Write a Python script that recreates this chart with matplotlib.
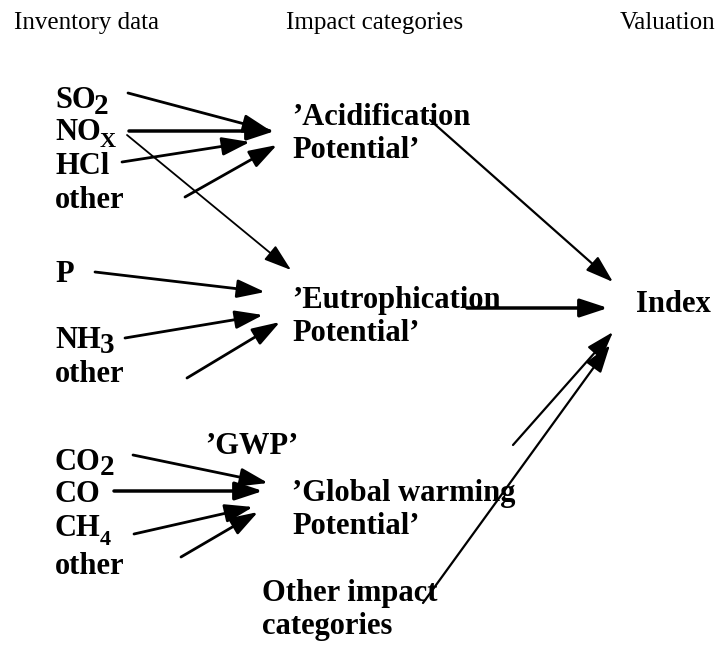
import matplotlib.pyplot as plt
from matplotlib.patches import FancyArrowPatch

plt.rcParams['font.family'] = ['Liberation Serif', 'DejaVu Serif']

# column headers (text, x centre, y)
headers = ["Inventory data", "Impact categories", "Valuation"]
header_x = [87, 375, 668]
header_y = 23

# inventory substances: main text, subscript, subscript size, subscript drop (pt)
inventory = ["SO", "NO", "HCl", "other", "P", "NH", "other", "CO", "CO", "CH", "other"]
subscripts = ["2", "X", "", "", "", "3", "", "2", "", "4", ""]
sub_size = [21, 16, 0, 0, 0, 21, 0, 21, 0, 16, 0]
sub_drop = [3, 3, 0, 0, 0, 3, 0, 3, 0, 5, 0]
inventory_y = [101, 133, 166, 200, 275, 340, 375, 462, 495, 529, 566]

# impact categories
categories = ["\u2019Acidification\nPotential\u2019", "\u2019Eutrophication\nPotential\u2019",
              "\u2019Global warming\nPotential\u2019", "Other impact\ncategories"]
category_xy = [(292, 134), (292, 317), (292, 510), (262, 610)]

# arrows: (start, tip, linewidth)
arrows = [
    ((128, 93), (271, 131), 2.0),
    ((129, 131), (275, 131), 2.5),
    ((122, 162), (250, 142), 2.0),
    ((185, 197), (277, 145), 2.0),
    ((127, 135), (291, 270), 1.3),
    ((95, 272), (265, 292), 2.0),
    ((125, 338), (263, 315), 2.0),
    ((187, 378), (280, 322), 2.0),
    ((133, 455), (268, 483), 2.0),
    ((114, 491), (263, 491), 2.5),
    ((134, 534), (253, 507), 2.0),
    ((181, 557), (258, 512), 2.0),
    ((430, 120), (613, 282), 1.6),
    ((467, 308), (608, 308), 2.5),
    ((513, 445), (613, 332), 1.6),
    ((423, 603), (610, 345), 1.6),
]

fig = plt.figure(figsize=(7.17, 6.46), dpi=100)
ax = fig.add_axes([0, 0, 1, 1])
ax.set_xlim(0, 717)
ax.set_ylim(646, 0)
ax.axis('off')

for t, x in zip(headers, header_x):
    ax.text(x, header_y, t, ha='center', va='center', fontsize=18)

for t, s, ss, sd, y in zip(inventory, subscripts, sub_size, sub_drop, inventory_y):
    main = ax.text(55, y, t, ha='left', va='center', fontsize=22, fontweight='bold')
    if s:
        ax.annotate(s, xy=(1, 0), xycoords=main, xytext=(-1, -sd),
                    textcoords='offset points', ha='left', va='bottom',
                    fontsize=ss, fontweight='bold')

for t, (x, y) in zip(categories, category_xy):
    ax.text(x, y, t, ha='left', va='center', fontsize=22, fontweight='bold',
            linespacing=1.15)

ax.text(205, 446, "\u2019GWP\u2019", ha='left', va='center', fontsize=22, fontweight='bold')
ax.text(636, 305, "Index", ha='left', va='center', fontsize=22, fontweight='bold')

for start, tip, lw in arrows:
    ax.add_patch(FancyArrowPatch(start, tip, arrowstyle='-|>,head_length=0.85,head_width=0.28',
                                 mutation_scale=20, lw=lw, color='black',
                                 shrinkA=0, shrinkB=0))

fig.savefig("out.png", dpi=100)
